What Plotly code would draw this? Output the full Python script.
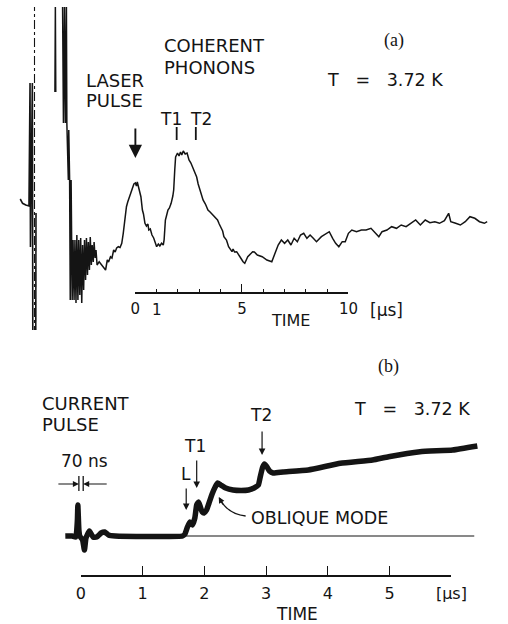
import plotly.graph_objects as go

W, H = 508, 624

# ---------------- data ----------------
# Panel (a): detected signal (arb. units) vs time (µs)
a_pre_time = [-5.41, -5.30, -5.15, -5.00, -4.95, -4.93, -4.84, -4.82, None, -4.68, -4.67]
a_pre_signal = [13.1, 12.67, 12.5, 12.4, 24.7, 8.3, 24.7, -0.5, None, -0.5, 11.7]
a_marker_time = -4.74
a_marker_span = [-0.5, 32.3]

a_time = [
    -3.78, -3.76, -3.74, None,
    -3.42, -3.38, -3.33, -3.29, -3.24, -3.22, -3.15, -3.13, -3.09, -3.06, -3.02,
    -2.97, -2.93, -2.88, -2.84, -2.79, -2.75, -2.70, -2.66, -2.61, -2.57, -2.52,
    -2.48, -2.43, -2.39, -2.34, -2.30, -2.25, -2.21, -2.16, -2.12, -2.07, -2.03,
    -1.98, -1.94, -1.89, -1.85, -1.80,
    -1.70, -1.62, -1.55, -1.47, -1.40, -1.32, -1.26, -1.17, -1.10, -1.02, -0.95,
    -0.88, -0.80, -0.72, -0.64, -0.57, -0.50, -0.42, -0.36, -0.27, -0.20, -0.12,
    -0.07, 0.00, 0.05, 0.09, 0.16, 0.20, 0.26, 0.33, 0.38, 0.45, 0.52, 0.59,
    0.63, 0.70, 0.78, 0.86, 0.92, 1.00, 1.08, 1.15, 1.23, 1.31, 1.35, 1.41,
    1.46, 1.53, 1.60, 1.68, 1.76, 1.80, 1.85, 1.89, 1.98, 2.05, 2.12, 2.18,
    2.25, 2.34, 2.43, 2.52, 2.61, 2.70, 2.79, 2.88, 2.95, 3.03, 3.11, 3.18,
    3.29, 3.41, 3.51, 3.64, 3.74, 3.86, 3.94, 4.01, 4.10, 4.16, 4.28, 4.38,
    4.46, 4.54, 4.59, 4.66, 4.76, 4.84, 4.91, 4.98, 5.06, 5.14, 5.21, 5.28,
    5.44, 5.51, 5.59, 5.73, 5.96, 6.18, 6.41, 6.56, 6.71, 6.86, 7.01, 7.16,
    7.31, 7.46, 7.61, 7.76, 7.91, 8.06, 8.21, 8.36, 8.51, 8.74, 8.96, 9.11,
    9.27, 9.41, 9.56, 9.72, 9.86, 10.01, 10.17, 10.39, 10.62, 10.84, 11.07,
    11.29, 11.44, 11.59, 11.82, 12.04, 12.27, 12.49, 12.72, 12.94, 13.17,
    13.39, 13.62, 13.84, 14.07, 14.29, 14.52, 14.72, 14.82, 15.05, 15.27,
    15.50, 15.72, 15.95, 16.17, 16.40, 16.53,
]
a_signal = [
    23.8, 32.3, 23.8, None,
    32.3, 20.7, 32.3, 20.7, 32.3, 20.7, 15.0, 20.0, 15.0, 3.0, 15.0,
    3.0, 9.0, 3.0, 9.0, 2.7, 9.5, 3.0, 9.0, 3.5, 9.2, 2.7,
    8.5, 4.0, 9.0, 5.0, 9.2, 5.5, 8.8, 6.0, 9.3, 6.5, 8.5,
    6.8, 8.8, 7.2, 8.0, 6.5,
    6.83, 6.6, 6.33, 6.2, 6.0, 7.0, 6.8, 7.33, 7.2, 8.0, 7.8,
    8.2, 8.33, 8.25, 8.67, 9.67, 11.0, 12.33, 12.8, 13.33, 13.7, 14.2,
    14.6, 14.7, 14.4, 14.8, 14.3, 14.0, 13.33, 12.0, 11.6, 10.67, 10.4, 10.6,
    10.0, 10.1, 9.5, 9.2, 8.8, 8.33, 8.6, 8.4, 8.67, 8.5, 9.0, 11.0,
    11.4, 12.0, 12.2, 12.67, 13.4, 14.0, 16.0, 17.3, 17.7, 17.4, 17.8, 17.5,
    17.9, 17.6, 17.7, 17.0, 16.7, 16.2, 15.8, 15.3, 14.6, 14.0, 13.6, 13.0,
    12.6, 12.0, 11.8, 11.5, 11.2, 11.0, 10.6, 10.33, 9.9, 9.33, 9.0, 8.33,
    8.1, 7.83, 8.1, 7.8, 7.83, 7.6, 7.33, 7.1, 6.83, 6.67, 7.0, 7.33,
    7.67, 7.83, 7.8, 7.5, 7.33, 7.0, 6.83, 7.67, 8.5, 9.0, 8.67, 9.0,
    8.5, 9.17, 8.83, 9.5, 9.67, 9.17, 9.5, 9.17, 8.83, 9.33, 9.67, 9.83,
    9.17, 8.67, 8.33, 8.83, 8.83, 9.67, 10.0, 9.83, 10.0, 10.0, 10.17,
    9.67, 9.33, 9.83, 10.0, 10.33, 10.17, 10.5, 10.33, 10.67, 11.0,
    10.5, 11.0, 10.73, 10.83, 10.67, 10.93, 11.67, 10.83, 10.67, 10.5,
    10.83, 11.33, 11.17, 10.83, 10.67, 10.83,
]
a_mode_times = [1.94, 2.84]          # T1, T2 marks
a_scale_major = [0, 5, 10]
a_scale_minor = [1, 2, 3, 4, 6, 7, 8, 9]

# Panel (b): bolometer signal (arb. units) vs time (µs)
b_time = [
    -0.25, -0.14, -0.08, -0.054, -0.047, -0.03, -0.016, 0.03, 0.06, 0.085,
    0.14, 0.20, 0.26, 0.33, 0.39, 0.45, 0.56, 1.65, 1.69, 1.73, 1.77, 1.81,
    1.85, 1.88, 1.91, 1.94, 1.97, 2.00, 2.04, 2.08, 2.13, 2.18, 2.22, 2.27,
    2.35, 2.47, 2.60, 2.72, 2.81, 2.88, 2.91, 2.95, 2.98, 3.02, 3.06, 3.12,
    3.28, 3.69, 4.21, 4.73, 4.99, 5.50, 6.03, 6.43,
]
b_signal = [
    0.0, 0.0, -0.1, 1.6, 3.1, 0.6, 0.0, -0.4, -1.4, -0.2,
    0.5, -0.1, -0.1, 0.3, 0.4, 0.1, 0.0, 0.0, 0.2, 0.9, 1.4, 1.1,
    1.8, 3.1, 3.4, 2.9, 2.4, 2.3, 2.6, 3.3, 4.2, 4.9, 5.3, 5.1,
    4.8, 4.6, 4.55, 4.6, 4.8, 5.1, 5.9, 6.9, 7.2, 6.9, 6.5, 6.3,
    6.4, 6.6, 7.27, 7.6, 7.93, 8.43, 8.6, 9.0,
]
b_base_time = [1.65, 6.38]
b_base_signal = [0.0, 0.0]
b_pulse_edges = [-0.03, 0.04]       # 70 ns current pulse
b_marks = {"L": (1.71, 2.6), "T1": (1.88, 4.8), "T2": (2.94, 8.1)}
b_scale_ticks = [0, 1, 2, 3, 4, 5, 6]
b_scale_text = ["0", "1", "2", "3", "4", "5", "[μs]"]

# ---------------- figure ----------------
INK = "#141414"
SANS = "DejaVu Sans, sans-serif"
SERIF = "Liberation Serif, DejaVu Serif, serif"


def px(x):
    return x / W


def py(y):
    return 1 - y / H


fig = go.Figure()

fig.add_trace(go.Scatter(x=a_pre_time, y=a_pre_signal, mode="lines",
                         line=dict(color=INK, width=1.6), xaxis="x", yaxis="y",
                         hoverinfo="skip", showlegend=False))
fig.add_trace(go.Scatter(x=[a_marker_time, a_marker_time], y=a_marker_span, mode="lines",
                         line=dict(color=INK, width=1.1, dash="dashdot"),
                         xaxis="x", yaxis="y", hoverinfo="skip", showlegend=False))
fig.add_trace(go.Scatter(x=a_time, y=a_signal, mode="lines",
                         line=dict(color=INK, width=1.5), xaxis="x", yaxis="y",
                         hoverinfo="skip", showlegend=False))

fig.add_trace(go.Scatter(x=b_base_time, y=b_base_signal, mode="lines",
                         line=dict(color=INK, width=1.1), xaxis="x2", yaxis="y2",
                         hoverinfo="skip", showlegend=False))
fig.add_trace(go.Scatter(x=b_time, y=b_signal, mode="lines",
                         line=dict(color=INK, width=5.5, shape="spline", smoothing=0.4),
                         xaxis="x2", yaxis="y2", hoverinfo="skip", showlegend=False))

# carriers for the scale-bar axes
fig.add_trace(go.Scatter(x=[None], y=[None], xaxis="x3", yaxis="y", showlegend=False, hoverinfo="skip"))
fig.add_trace(go.Scatter(x=[None], y=[None], xaxis="x4", yaxis="y2", showlegend=False, hoverinfo="skip"))

a_x0, a_ppu = 136.0, 22.2
b_x0, b_ppu = 79.0, 64.34

scale_common = dict(showline=True, linecolor=INK, linewidth=1.5, ticks="inside",
                    tickcolor=INK, tickwidth=1.4, showgrid=False, zeroline=False,
                    fixedrange=True, anchor="free")

fig.update_layout(
    width=W, height=H, margin=dict(l=0, r=0, t=0, b=0),
    paper_bgcolor="white", plot_bgcolor="rgba(0,0,0,0)",
    xaxis=dict(domain=[0, 1], range=[-a_x0 / a_ppu, (W - a_x0) / a_ppu], visible=False, anchor="y"),
    yaxis=dict(domain=[py(330), 1], range=[0, 33], visible=False, anchor="x"),
    xaxis2=dict(domain=[0, 1], range=[-b_x0 / b_ppu, (W - b_x0) / b_ppu], visible=False, anchor="y2"),
    yaxis2=dict(domain=[py(560), py(380)], range=[-2.4, 15.6], visible=False, anchor="x2"),
    xaxis3=dict(domain=[px(136), px(358.3)], range=[0, 10], position=py(293),
                tickvals=a_scale_major, ticktext=["0", "5", "10"], ticklen=8,
                minor=dict(tickvals=a_scale_minor, ticks="inside", ticklen=3,
                           tickwidth=1.3, tickcolor=INK),
                tickfont=dict(family=SANS, size=15, color=INK), ticklabelstandoff=2,
                **scale_common),
    xaxis4=dict(domain=[px(79), px(465.7)], range=[0, 6], position=py(575.7),
                tickvals=b_scale_ticks, ticktext=b_scale_text, ticklen=9,
                tickfont=dict(family=SANS, size=16, color=INK), ticklabelstandoff=3,
                **scale_common),
)

ann = []


def text(x, y, s, size=18, family=SANS, xanchor="center"):
    ann.append(dict(x=px(x), y=py(y), xref="paper", yref="paper", text=s, showarrow=False,
                    xanchor=xanchor, yanchor="middle",
                    font=dict(family=family, size=size, color=INK)))


nb = "\u00a0"
T_label = f"T{nb}{nb}{nb}={nb}{nb}{nb}3.72{nb}K"

# panel (a) texts
text(406, 41, "(a)", size=18, family=SERIF)
text(334, 80, T_label, size=17.5, xanchor="left")
text(164, 46, "COHERENT", xanchor="left")
text(164, 67.5, "PHONONS", xanchor="left")
text(82, 81, "LASER", xanchor="left")
text(82, 101, "PULSE", xanchor="left")
text(173.5, 119, "T1", size=17)
text(204, 119, "T2", size=17)
text(397.5, 310, "[μs]", size=17)
text(297.5, 320.5, "TIME", size=16)
ann.append(dict(x=1, y=py(310), xref="x3", yref="paper", text="1", showarrow=False,
                xanchor="center", yanchor="middle", font=dict(family=SANS, size=15, color=INK)))
# laser arrow
ann.append(dict(x=0, y=17.2, xref="x", yref="y", text="", showarrow=True, ax=0, ay=-31,
                arrowhead=2, arrowsize=1.4, arrowwidth=1.9, arrowcolor=INK))

# panel (b) texts
text(400, 366, "(b)", size=18, family=SERIF)
text(362, 409, T_label, size=17.5, xanchor="left")
text(37, 403, "CURRENT", xanchor="left")
text(37, 424, "PULSE", xanchor="left")
text(82.5, 461, "70 ns", size=17)
text(189, 474, "L", size=17)
text(198, 446, "T1", size=17)
text(267.5, 415, "T2", size=17)
text(255, 517.5, "OBLIQUE MODE", size=17.5, xanchor="left")
text(305, 614, "TIME", size=17)

arrow_len = {"L": -23, "T1": -29, "T2": -25}
for k, (tx, ty) in b_marks.items():
    ann.append(dict(x=tx, y=ty, xref="x2", yref="y2", text="", showarrow=True, ax=0,
                    ay=arrow_len[k], arrowhead=2, arrowsize=1.1, arrowwidth=1.2, arrowcolor=INK))
# 70 ns arrows
ann.append(dict(x=b_pulse_edges[0], y=5.2, xref="x2", yref="y2", text="", showarrow=True,
                ax=-22, ay=0, arrowhead=2, arrowsize=1.0, arrowwidth=1.2, arrowcolor=INK))
ann.append(dict(x=b_pulse_edges[1], y=5.2, xref="x2", yref="y2", text="", showarrow=True,
                ax=25, ay=0, arrowhead=2, arrowsize=1.0, arrowwidth=1.2, arrowcolor=INK))
# oblique mode curved arrow head
ann.append(dict(x=px(223), y=py(497), xref="paper", yref="paper", text="", showarrow=True,
                ax=5, ay=9, arrowhead=2, arrowsize=1.0, arrowwidth=1.2, arrowcolor=INK))

shapes = []
for t in a_mode_times:
    shapes.append(dict(type="line", xref="x", yref="y", x0=t, x1=t, y0=19.0, y1=20.3,
                       line=dict(color=INK, width=1.8)))
for t in b_pulse_edges:
    shapes.append(dict(type="line", xref="x2", yref="y2", x0=t, x1=t, y0=4.5, y1=6.0,
                       line=dict(color=INK, width=1.3)))
shapes.append(dict(type="path", xref="paper", yref="paper",
                   path=f"M {px(251)} {py(516)} Q {px(232)} {py(514)} {px(223.5)} {py(498)}",
                   line=dict(color=INK, width=1.3)))

fig.update_layout(annotations=ann, shapes=shapes)

fig.write_html("out.html", config={"displayModeBar": False},
               post_script="document.body.style.margin='0';document.body.style.overflow='hidden';")
